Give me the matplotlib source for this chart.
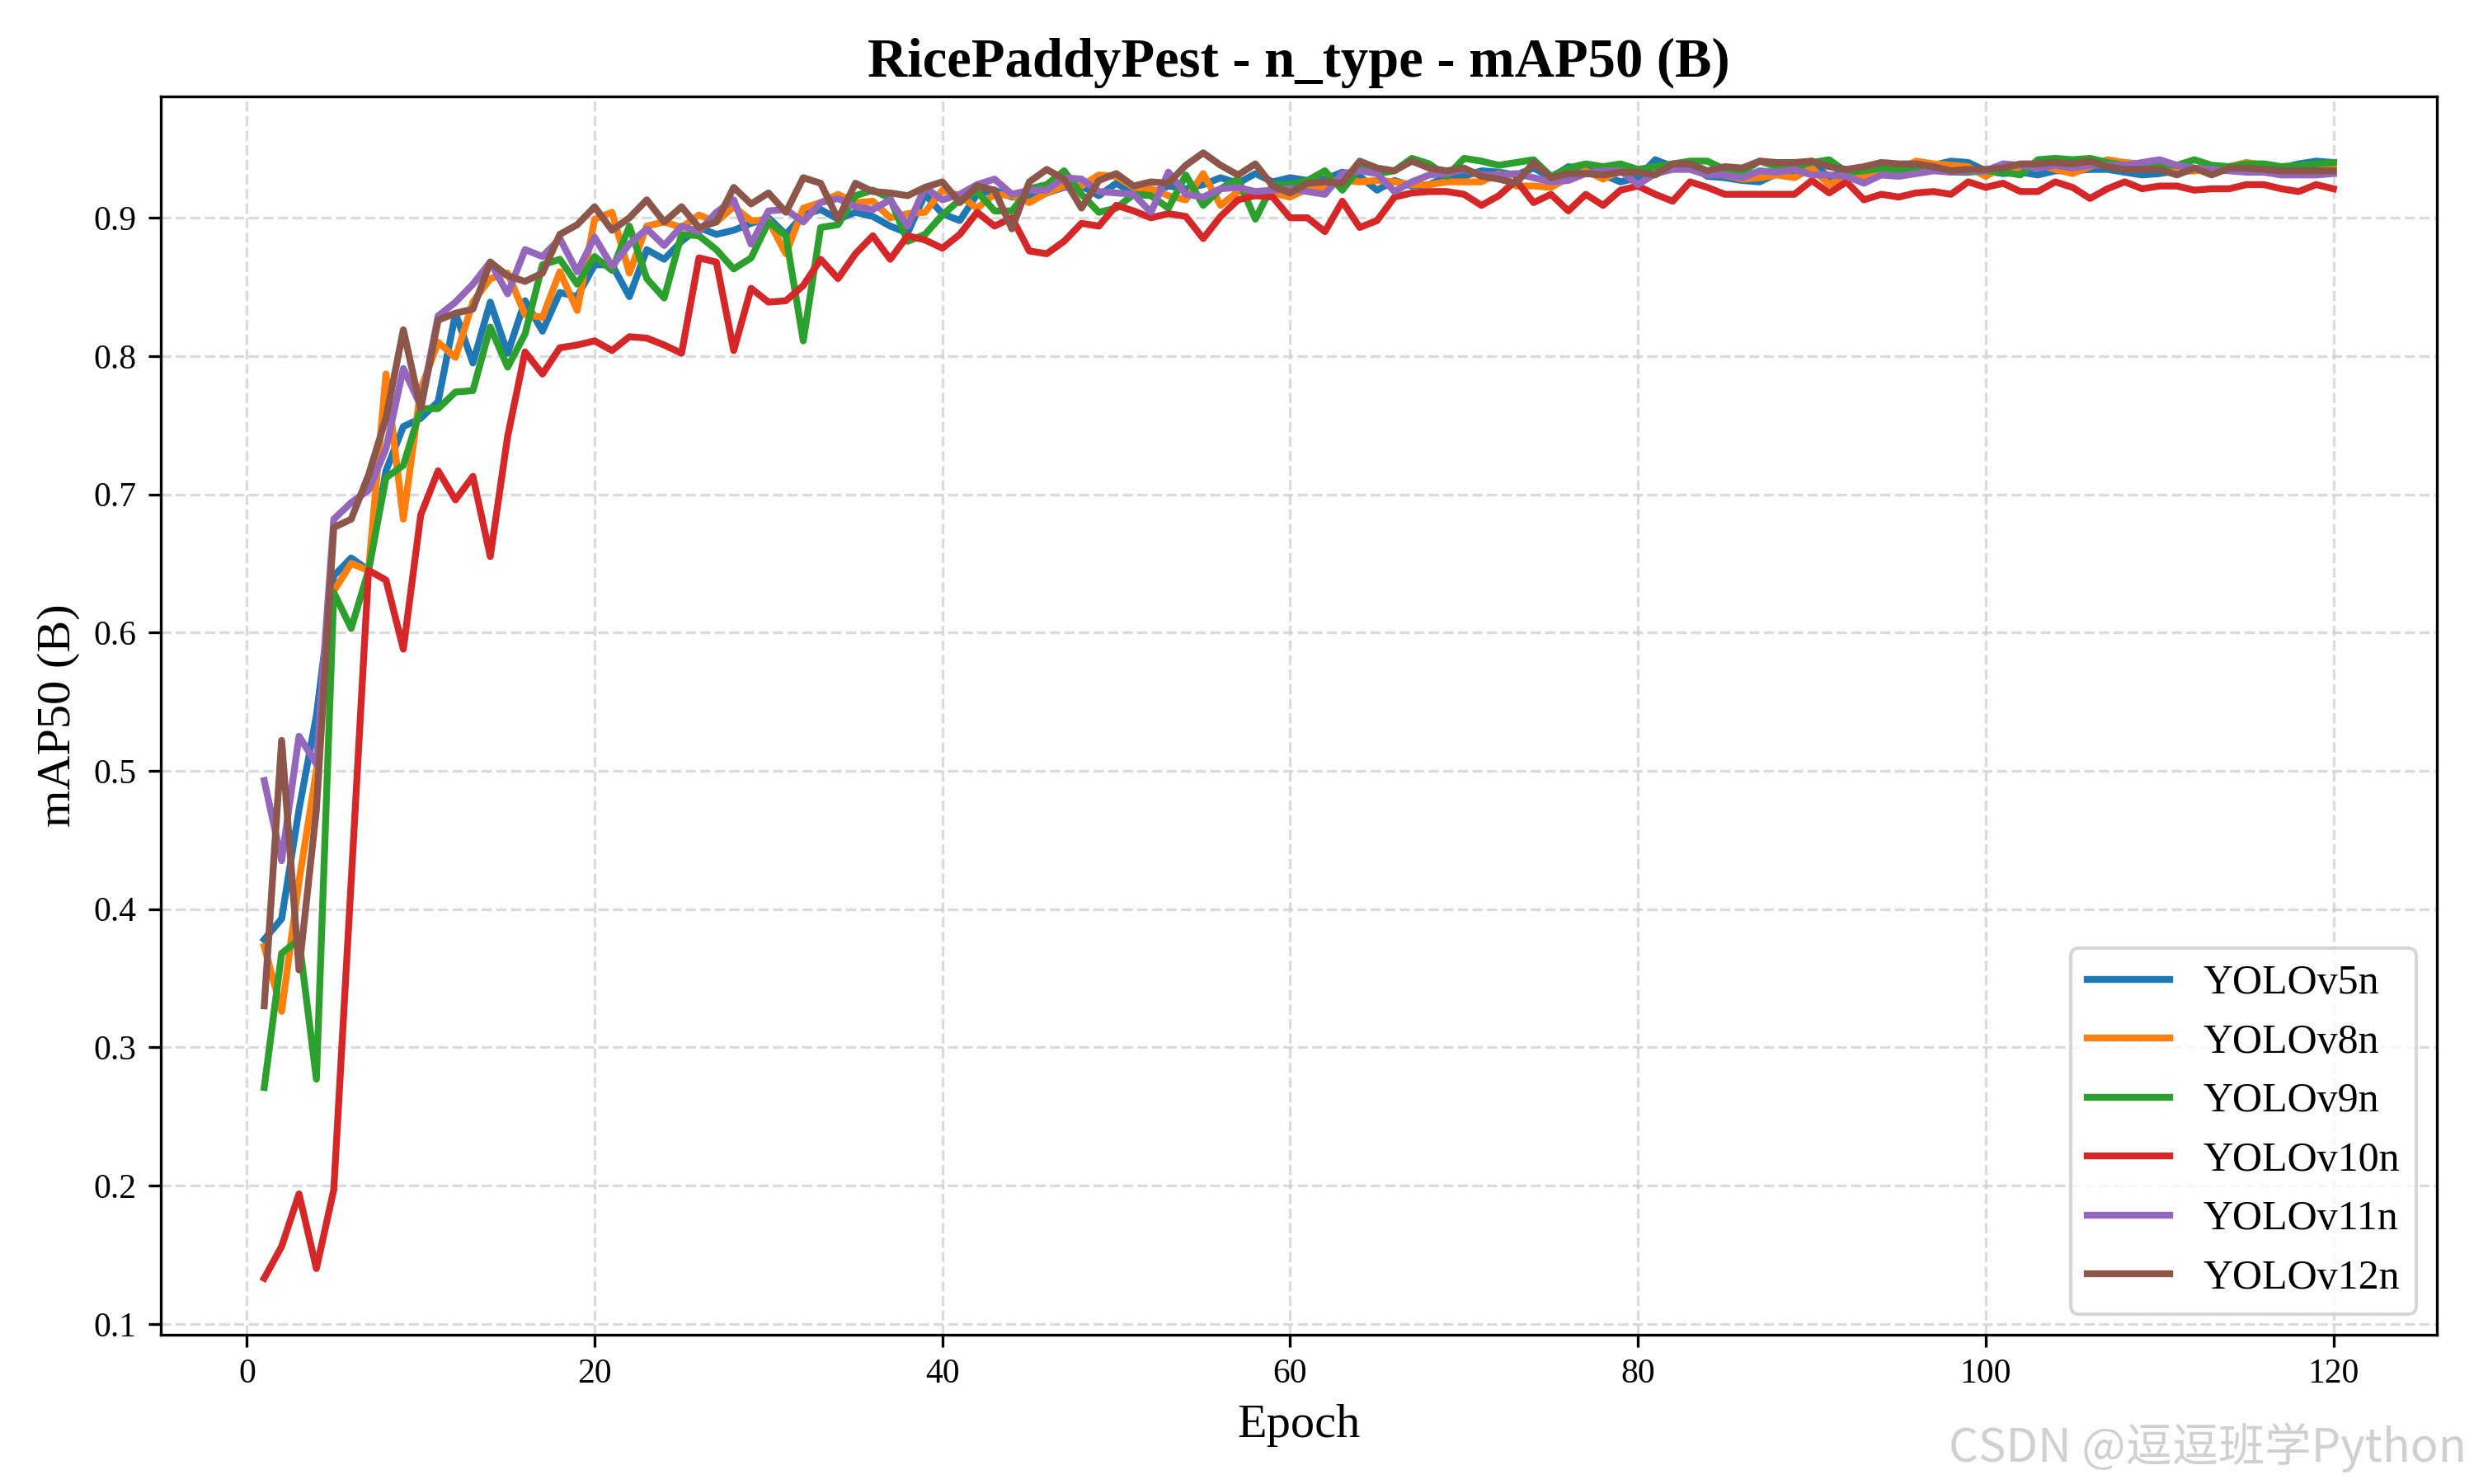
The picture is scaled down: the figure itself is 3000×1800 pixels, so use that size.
import numpy as np
import matplotlib
matplotlib.use("Agg")
import matplotlib.pyplot as plt

plt.rcParams['font.family'] = ['Liberation Serif', 'DejaVu Serif']

epochs = np.arange(1, 121)

yolov5n = [0.378, 0.393, 0.472, 0.540, 0.641, 0.654, 0.645, 0.717, 0.749, 0.755,
           0.767, 0.831, 0.795, 0.839, 0.802, 0.840, 0.818, 0.846, 0.843, 0.866,
           0.866, 0.843, 0.877, 0.870, 0.883, 0.893, 0.888, 0.891, 0.896, 0.900,
           0.888, 0.902, 0.906, 0.899, 0.904, 0.901, 0.894, 0.889, 0.917, 0.903,
           0.898, 0.917, 0.920, 0.915, 0.915, 0.918, 0.922, 0.923, 0.916, 0.925,
           0.918, 0.918, 0.923, 0.921, 0.924, 0.929, 0.925, 0.932, 0.926, 0.929,
           0.927, 0.928, 0.933, 0.930, 0.920, 0.927, 0.923, 0.924, 0.930, 0.930,
           0.934, 0.933, 0.931, 0.936, 0.929, 0.937, 0.935, 0.931, 0.926, 0.929,
           0.942, 0.937, 0.938, 0.930, 0.929, 0.927, 0.926, 0.932, 0.934, 0.941,
           0.929, 0.935, 0.932, 0.936, 0.934, 0.937, 0.938, 0.941, 0.940, 0.934,
           0.932, 0.933, 0.931, 0.934, 0.934, 0.935, 0.935, 0.933, 0.931, 0.932,
           0.934, 0.934, 0.936, 0.936, 0.935, 0.934, 0.936, 0.939, 0.941, 0.940]

yolov8n = [0.373, 0.326, 0.420, 0.500, 0.630, 0.650, 0.645, 0.787, 0.682, 0.776,
           0.810, 0.799, 0.839, 0.856, 0.860, 0.830, 0.828, 0.861, 0.833, 0.899,
           0.904, 0.860, 0.894, 0.897, 0.893, 0.902, 0.897, 0.908, 0.898, 0.898,
           0.874, 0.907, 0.911, 0.917, 0.911, 0.912, 0.900, 0.903, 0.904, 0.920,
           0.916, 0.907, 0.917, 0.916, 0.911, 0.918, 0.923, 0.923, 0.931, 0.930,
           0.922, 0.921, 0.916, 0.913, 0.932, 0.909, 0.919, 0.919, 0.918, 0.915,
           0.921, 0.922, 0.927, 0.926, 0.927, 0.926, 0.924, 0.924, 0.926, 0.926,
           0.926, 0.932, 0.923, 0.923, 0.922, 0.929, 0.934, 0.928, 0.934, 0.933,
           0.935, 0.937, 0.936, 0.932, 0.931, 0.928, 0.929, 0.931, 0.929, 0.936,
           0.924, 0.931, 0.929, 0.935, 0.935, 0.941, 0.939, 0.938, 0.937, 0.930,
           0.937, 0.936, 0.939, 0.935, 0.932, 0.937, 0.942, 0.940, 0.939, 0.936,
           0.934, 0.934, 0.935, 0.937, 0.940, 0.938, 0.936, 0.937, 0.938, 0.938]

yolov9n = [0.271, 0.368, 0.378, 0.277, 0.629, 0.603, 0.645, 0.712, 0.721, 0.762,
           0.762, 0.774, 0.775, 0.821, 0.792, 0.816, 0.866, 0.870, 0.852, 0.872,
           0.862, 0.894, 0.856, 0.842, 0.888, 0.887, 0.877, 0.863, 0.871, 0.897,
           0.887, 0.811, 0.893, 0.895, 0.916, 0.920, 0.914, 0.883, 0.888, 0.902,
           0.913, 0.919, 0.905, 0.905, 0.921, 0.924, 0.934, 0.917, 0.904, 0.907,
           0.917, 0.916, 0.907, 0.931, 0.909, 0.921, 0.928, 0.899, 0.924, 0.924,
           0.927, 0.934, 0.920, 0.936, 0.932, 0.934, 0.943, 0.939, 0.930, 0.943,
           0.941, 0.938, 0.940, 0.942, 0.930, 0.936, 0.939, 0.937, 0.939, 0.935,
           0.937, 0.939, 0.941, 0.941, 0.935, 0.933, 0.941, 0.937, 0.937, 0.940,
           0.942, 0.933, 0.934, 0.936, 0.934, 0.936, 0.937, 0.933, 0.933, 0.934,
           0.933, 0.931, 0.942, 0.943, 0.942, 0.943, 0.940, 0.938, 0.938, 0.938,
           0.938, 0.942, 0.938, 0.937, 0.939, 0.939, 0.937, 0.938, 0.939, 0.940]

yolov10n = [0.133, 0.156, 0.194, 0.140, 0.197, 0.420, 0.645, 0.638, 0.588, 0.685,
            0.717, 0.696, 0.713, 0.655, 0.742, 0.803, 0.787, 0.806, 0.808, 0.811,
            0.804, 0.814, 0.813, 0.808, 0.802, 0.871, 0.868, 0.804, 0.849, 0.839,
            0.840, 0.851, 0.870, 0.856, 0.874, 0.887, 0.870, 0.887, 0.884, 0.878,
            0.888, 0.904, 0.894, 0.900, 0.876, 0.874, 0.883, 0.896, 0.894, 0.909,
            0.905, 0.900, 0.903, 0.901, 0.885, 0.901, 0.913, 0.916, 0.915, 0.900,
            0.900, 0.890, 0.912, 0.893, 0.898, 0.915, 0.918, 0.919, 0.919, 0.917,
            0.909, 0.916, 0.927, 0.911, 0.917, 0.905, 0.917, 0.909, 0.920, 0.923,
            0.917, 0.912, 0.926, 0.922, 0.917, 0.917, 0.917, 0.917, 0.917, 0.927,
            0.918, 0.926, 0.913, 0.917, 0.915, 0.918, 0.919, 0.917, 0.926, 0.922,
            0.925, 0.919, 0.919, 0.926, 0.922, 0.914, 0.921, 0.926, 0.921, 0.923,
            0.923, 0.920, 0.921, 0.921, 0.924, 0.924, 0.921, 0.919, 0.924, 0.921]

yolov11n = [0.493, 0.435, 0.525, 0.505, 0.682, 0.694, 0.703, 0.733, 0.791, 0.764,
            0.829, 0.839, 0.852, 0.868, 0.845, 0.877, 0.872, 0.885, 0.861, 0.886,
            0.865, 0.881, 0.892, 0.880, 0.894, 0.890, 0.904, 0.913, 0.881, 0.905,
            0.906, 0.897, 0.911, 0.914, 0.908, 0.906, 0.913, 0.894, 0.922, 0.913,
            0.917, 0.924, 0.928, 0.917, 0.920, 0.920, 0.929, 0.928, 0.919, 0.918,
            0.917, 0.904, 0.933, 0.917, 0.915, 0.921, 0.922, 0.919, 0.920, 0.921,
            0.919, 0.917, 0.932, 0.934, 0.932, 0.919, 0.926, 0.931, 0.932, 0.935,
            0.931, 0.931, 0.932, 0.929, 0.926, 0.927, 0.932, 0.934, 0.934, 0.924,
            0.932, 0.935, 0.935, 0.931, 0.931, 0.929, 0.934, 0.933, 0.935, 0.931,
            0.931, 0.930, 0.925, 0.931, 0.930, 0.932, 0.934, 0.933, 0.934, 0.934,
            0.939, 0.938, 0.936, 0.938, 0.936, 0.938, 0.938, 0.938, 0.940, 0.942,
            0.938, 0.936, 0.935, 0.934, 0.933, 0.933, 0.931, 0.931, 0.931, 0.932]

yolov12n = [0.330, 0.522, 0.356, 0.472, 0.676, 0.682, 0.714, 0.755, 0.819, 0.762,
            0.826, 0.831, 0.834, 0.868, 0.858, 0.854, 0.860, 0.888, 0.895, 0.908,
            0.891, 0.900, 0.913, 0.897, 0.908, 0.893, 0.897, 0.922, 0.910, 0.918,
            0.904, 0.929, 0.925, 0.899, 0.925, 0.919, 0.918, 0.916, 0.922, 0.926,
            0.911, 0.923, 0.920, 0.892, 0.926, 0.935, 0.928, 0.907, 0.927, 0.932,
            0.923, 0.926, 0.925, 0.938, 0.947, 0.938, 0.931, 0.939, 0.923, 0.918,
            0.925, 0.926, 0.925, 0.941, 0.936, 0.934, 0.941, 0.936, 0.934, 0.936,
            0.930, 0.928, 0.925, 0.940, 0.929, 0.932, 0.932, 0.931, 0.933, 0.933,
            0.931, 0.939, 0.939, 0.934, 0.937, 0.936, 0.941, 0.940, 0.940, 0.941,
            0.937, 0.935, 0.937, 0.940, 0.939, 0.939, 0.937, 0.934, 0.935, 0.935,
            0.936, 0.939, 0.939, 0.940, 0.939, 0.941, 0.937, 0.935, 0.935, 0.935,
            0.931, 0.936, 0.931, 0.936, 0.936, 0.935, 0.934, 0.934, 0.934, 0.934]

series = [("YOLOv5n", yolov5n), ("YOLOv8n", yolov8n), ("YOLOv9n", yolov9n),
          ("YOLOv10n", yolov10n), ("YOLOv11n", yolov11n), ("YOLOv12n", yolov12n)]

fig, ax = plt.subplots(figsize=(10, 6), dpi=300)
for name, vals in series:
    ax.plot(epochs, vals, linewidth=2, label=name)

ax.set_title("RicePaddyPest - n_type - mAP50 (B)", fontsize=16, fontweight='bold')
ax.set_xlabel("Epoch", fontsize=14)
ax.set_ylabel("mAP50 (B)", fontsize=14)
ax.tick_params(labelsize=10)
ax.grid(True, linestyle='--', color='#cccccc', alpha=0.7, linewidth=0.8)
ax.legend(loc='lower right', fontsize=12)

fig.tight_layout()
fig.text(0.997, 0.008, "CSDN @逗逗班学Python", ha='right', va='bottom', fontsize=13.5,
         color='#d0d0d0', family=['Noto Sans CJK SC', 'DejaVu Sans'])
fig.savefig("out.png")
